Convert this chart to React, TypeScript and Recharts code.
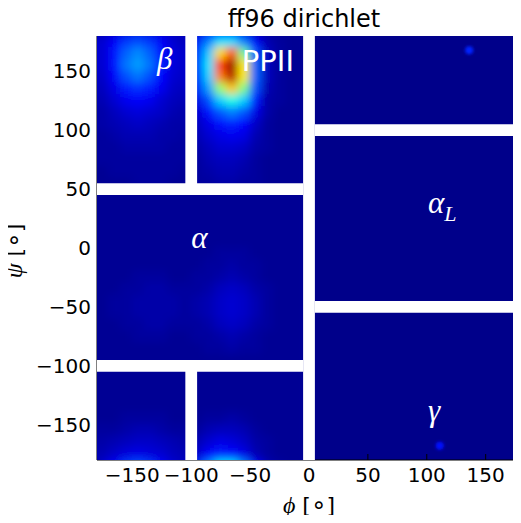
import {
  ScatterChart,
  Scatter,
  XAxis,
  YAxis,
  CartesianGrid,
  ReferenceArea,
  ReferenceDot,
} from "recharts";

// phi / psi centres of the 10 degree density cells (left half of the map)
const phiCenters = [
  -175, -165, -155, -145, -135, -125, -115, -105, -95, -85, -75, -65, -55, -45,
  -35, -25, -15, -5,
];
const psiCenters = [
  175, 165, 155, 145, 135, 125, 115, 105, 95, 85, 75, 65, 55, 45, 35, 25, 15, 5,
  -5, -15, -25, -35, -45, -55, -65, -75, -85, -95, -105, -115, -125, -135, -145,
  -155, -165, -175,
];

// density in percent of the colour scale, one row per psi centre
const density = [
  [8, 12, 18, 20, 18, 12, 8, 6, 12, 25, 35, 35, 25, 12, 5, 3, 2, 2],
  [8, 14, 22, 26, 22, 14, 9, 7, 15, 32, 66, 80, 48, 20, 6, 3, 2, 2],
  [8, 14, 24, 28, 24, 15, 9, 7, 15, 35, 82, 98, 64, 22, 6, 3, 2, 2],
  [7, 12, 20, 24, 20, 13, 8, 7, 14, 33, 75, 95, 64, 22, 6, 3, 2, 2],
  [6, 10, 15, 17, 15, 11, 7, 6, 12, 28, 52, 68, 50, 20, 5, 3, 2, 2],
  [5, 8, 11, 12, 11, 8, 6, 5, 10, 20, 33, 40, 33, 15, 4, 3, 2, 2],
  [4, 6, 8, 9, 8, 7, 5, 4, 8, 14, 21, 25, 21, 10, 4, 2, 2, 2],
  [4, 5, 6, 7, 6, 5, 4, 4, 6, 10, 14, 16, 13, 7, 3, 2, 2, 2],
  [3, 4, 5, 5, 5, 4, 4, 3, 5, 8, 10, 11, 10, 5, 3, 2, 2, 2],
  [3, 3, 4, 4, 4, 4, 3, 3, 4, 6, 8, 8, 7, 4, 3, 2, 2, 2],
  [3, 3, 3, 3, 3, 3, 3, 3, 3, 5, 6, 6, 5, 3, 2, 2, 2, 2],
  [2, 3, 3, 3, 3, 3, 3, 2, 3, 4, 5, 5, 4, 3, 2, 2, 2, 2],
  [2, 2, 2, 3, 3, 3, 2, 2, 3, 3, 4, 4, 3, 3, 2, 2, 2, 2],
  [2, 2, 2, 2, 2, 2, 2, 2, 2, 2, 2, 2, 2, 2, 2, 2, 2, 2],
  [2, 2, 2, 2, 2, 2, 2, 2, 2, 2, 2, 2, 2, 2, 2, 2, 2, 2],
  [2, 2, 2, 2, 2, 2, 2, 2, 2, 2, 2, 2, 2, 2, 2, 2, 2, 2],
  [2, 2, 2, 2, 2, 2, 2, 2, 2, 2, 2, 2, 2, 2, 2, 2, 2, 2],
  [2, 2, 2, 2, 2, 2, 2, 2, 2, 2, 2, 2, 2, 2, 2, 2, 2, 2],
  [2, 2, 2, 2, 2, 2, 2, 2, 2, 2, 3, 3, 3, 2, 2, 2, 2, 2],
  [2, 2, 2, 2, 2, 2, 2, 2, 2, 3, 3, 4, 3, 3, 2, 2, 2, 2],
  [2, 2, 2, 3, 3, 3, 2, 2, 3, 3, 4, 5, 4, 3, 2, 2, 2, 2],
  [2, 2, 3, 3, 4, 4, 3, 3, 3, 4, 6, 7, 6, 4, 3, 2, 2, 2],
  [2, 3, 3, 4, 4, 4, 4, 3, 4, 5, 7, 8, 7, 5, 3, 2, 2, 2],
  [2, 3, 3, 4, 4, 4, 4, 3, 4, 5, 7, 8, 7, 5, 3, 2, 2, 2],
  [2, 2, 3, 3, 4, 4, 3, 3, 3, 4, 6, 7, 6, 4, 3, 2, 2, 2],
  [2, 2, 2, 3, 3, 3, 2, 2, 3, 3, 4, 5, 4, 3, 2, 2, 2, 2],
  [2, 2, 2, 2, 2, 2, 2, 2, 2, 3, 3, 4, 3, 3, 2, 2, 2, 2],
  [2, 2, 2, 2, 2, 2, 2, 2, 2, 2, 2, 2, 2, 2, 2, 2, 2, 2],
  [2, 2, 2, 2, 2, 2, 2, 2, 2, 2, 2, 2, 2, 2, 2, 2, 2, 2],
  [2, 2, 2, 2, 2, 2, 2, 2, 2, 2, 2, 2, 2, 2, 2, 2, 2, 2],
  [2, 2, 2, 2, 2, 2, 2, 2, 2, 2, 2, 2, 2, 2, 2, 2, 2, 2],
  [2, 2, 2, 2, 2, 2, 2, 2, 2, 2, 2, 2, 2, 2, 2, 2, 2, 2],
  [2, 2, 3, 3, 3, 3, 2, 2, 2, 3, 3, 4, 3, 2, 2, 2, 2, 2],
  [3, 3, 4, 5, 5, 4, 3, 3, 3, 5, 6, 6, 5, 3, 2, 2, 2, 2],
  [4, 5, 6, 7, 7, 6, 5, 4, 5, 8, 10, 9, 7, 4, 3, 2, 2, 2],
  [5, 7, 9, 10, 9, 8, 6, 5, 7, 12, 15, 14, 10, 5, 3, 2, 2, 2],
];

// isolated small peaks on the right half
const spotPhi = [136, 111];
const spotPsi = [168, -168];
const spotDensity = [16, 14];

const backgroundDensity = 1;

// white gaps between the panels
const gapPhi1 = [-105, -105, -180, -180, -5, 5, 5];
const gapPhi2 = [-95, -95, -5, -5, 5, 180, 180];
const gapPsi1 = [45, -180, 45, -105, -180, 95, -55];
const gapPsi2 = [180, -95, 55, -95, 180, 105, -45];

// region names
const regionText = ["\u03b2", "PPII", "\u03b1", "\u03b1", "\u03b3"];
const regionSub = ["", "", "", "L", ""];
const regionPhi = [-129, -57, -100, 101, 101];
const regionPsi = [152, 150, 0, 30, -147];

const xTicks = [-150, -100, -50, 0, 50, 100, 150];
const yTicks = [-150, -100, -50, 0, 50, 100, 150];

const jet = (v: number) => {
  const c = (k: number) =>
    Math.round(255 * Math.max(0, Math.min(1, 1.5 - Math.abs(4 * v - k))));
  return `rgb(${c(3)},${c(2)},${c(1)})`;
};

const fmt = (v: number) => (v < 0 ? `\u2212${Math.abs(v)}` : String(v));

const heatCells: { phi: number; psi: number; v: number }[] = [];
psiCenters.forEach((psi, i) =>
  phiCenters.forEach((phi, j) =>
    heatCells.push({ phi, psi, v: density[i][j] / 100 })
  )
);
// psi wraps around, pad one row past each edge so the smoothing doesn't fade there
phiCenters.forEach((phi, j) => {
  heatCells.push({ phi, psi: 185, v: density[density.length - 1][j] / 100 });
  heatCells.push({ phi, psi: -185, v: density[0][j] / 100 });
});
psiCenters.forEach((psi, i) =>
  heatCells.push({ phi: -185, psi, v: density[i][0] / 100 })
);

const spots = spotPhi.map((phi, i) => ({
  phi,
  psi: spotPsi[i],
  v: spotDensity[i] / 100,
}));

const CELL = 13;

const HeatCell = (props: any) => {
  const { cx, cy, payload } = props;
  return (
    <rect
      x={cx - CELL / 2}
      y={cy - CELL / 2}
      width={CELL}
      height={CELL}
      fill={jet(payload.v)}
    />
  );
};

const SpotCell = (props: any) => {
  const { cx, cy, payload } = props;
  return <circle cx={cx} cy={cy} r={4} fill={jet(payload.v)} />;
};

const AxisName = ({ greek }: { greek: string }) => (
  <>
    <tspan fontFamily="Liberation Serif" fontStyle="italic" fontSize={24}>
      {greek}
    </tspan>
    <tspan> [</tspan>
    <tspan fontSize={25}>{"\u2218"}</tspan>
    <tspan>]</tspan>
  </>
);

const XTitle = (props: any) => {
  const vb = props.viewBox;
  return (
    <text
      x={vb.x + vb.width / 2}
      y={vb.y + vb.height - 2}
      textAnchor="middle"
      fontSize={22}
      fill="#000"
      fontFamily="DejaVu Sans"
    >
      <AxisName greek={"\u03d5"} />
    </text>
  );
};

const YTitle = (props: any) => {
  const vb = props.viewBox;
  const x = 22;
  const y = vb.y + vb.height / 2 + 3;
  return (
    <text
      x={x}
      y={y}
      transform={`rotate(-90 ${x} ${y})`}
      textAnchor="middle"
      fontSize={22}
      fill="#000"
      fontFamily="DejaVu Sans"
    >
      <AxisName greek={"\u03c8"} />
    </text>
  );
};

const RegionLabel = (i: number) => (props: any) => {
  const { cx, cy } = props;
  if (regionText[i] === "PPII") {
    return (
      <text x={cx} y={cy} fill="#fff" fontSize={29} fontFamily="DejaVu Sans">
        PPII
      </text>
    );
  }
  return (
    <text
      x={cx}
      y={cy}
      fill="#fff"
      fontSize={31}
      fontStyle="italic"
      fontFamily="Liberation Serif"
    >
      {regionText[i]}
      {regionSub[i] && (
        <tspan fontSize={22} dy={8}>
          {regionSub[i]}
        </tspan>
      )}
    </text>
  );
};

const App = () => {
  return (
    <div
      style={{ position: "relative", width: 521, height: 507, marginLeft: -8 }}
    >
      <style>{`.heat-layer{filter:url(#heatBlur)} .spot-layer{filter:url(#spotBlur)} .recharts-surface{overflow:visible}`}</style>
      <svg width={0} height={0} style={{ position: "absolute" }}>
        <defs>
          <filter id="heatBlur" x="-10%" y="-10%" width="120%" height="120%">
            <feGaussianBlur stdDeviation={4.5} />
          </filter>
          <filter id="spotBlur" x="-100%" y="-100%" width="300%" height="300%">
            <feGaussianBlur stdDeviation={1.6} />
          </filter>
        </defs>
      </svg>
      <div
        style={{
          position: "absolute",
          left: 154,
          width: 300,
          top: -1,
          textAlign: "center",
          fontFamily: "DejaVu Sans",
          fontSize: 24,
          lineHeight: "24px",
          color: "#000",
        }}
      >
        ff96 dirichlet
      </div>
      <ScatterChart
        width={521}
        height={507}
        margin={{ top: 28, right: 0, bottom: 0, left: 8 }}
      >
        <CartesianGrid
          horizontal={false}
          vertical={false}
          fill={jet(backgroundDensity / 100)}
          fillOpacity={1}
        />
        <XAxis
          type="number"
          dataKey="phi"
          domain={[-180, 180]}
          ticks={xTicks}
          interval={0}
          allowDataOverflow
          tickFormatter={fmt}
          height={55}
          tickSize={-6}
          tickMargin={14}
          stroke="#000"
          tick={{ fill: "#000", fontSize: 20, fontFamily: "DejaVu Sans" }}
          label={<XTitle />}
        />
        <XAxis
          xAxisId="top"
          orientation="top"
          type="number"
          domain={[-180, 180]}
          ticks={xTicks}
          interval={0}
          allowDataOverflow
          height={0}
          tickSize={-6}
          stroke="#000"
          tick={false}
        />
        <YAxis
          type="number"
          dataKey="psi"
          domain={[-180, 180]}
          ticks={yTicks}
          interval={0}
          allowDataOverflow
          tickFormatter={fmt}
          width={89}
          tickSize={-6}
          tickMargin={12}
          stroke="#000"
          tick={{ fill: "#000", fontSize: 20, fontFamily: "DejaVu Sans" }}
          label={<YTitle />}
        />
        <YAxis
          yAxisId="right"
          orientation="right"
          type="number"
          domain={[-180, 180]}
          ticks={yTicks}
          interval={0}
          allowDataOverflow
          width={0}
          tickSize={-6}
          stroke="#000"
          tick={false}
        />
        <Scatter
          data={heatCells}
          className="heat-layer"
          shape={HeatCell}
          isAnimationActive={false}
        />
        <Scatter
          data={spots}
          className="spot-layer"
          shape={SpotCell}
          isAnimationActive={false}
        />
        {gapPhi1.map((x1, i) => (
          <ReferenceArea
            key={`gap-${i}`}
            x1={x1}
            x2={gapPhi2[i]}
            y1={gapPsi1[i]}
            y2={gapPsi2[i]}
            fill="#fff"
            fillOpacity={1}
            stroke="none"
            zIndex={700}
          />
        ))}
        {regionText.map((t, i) => (
          <ReferenceDot
            key={`region-${i}`}
            x={regionPhi[i]}
            y={regionPsi[i]}
            r={1}
            shape={RegionLabel(i)}
            zIndex={800}
          />
        ))}
      </ScatterChart>
    </div>
  );
};

export default App;
